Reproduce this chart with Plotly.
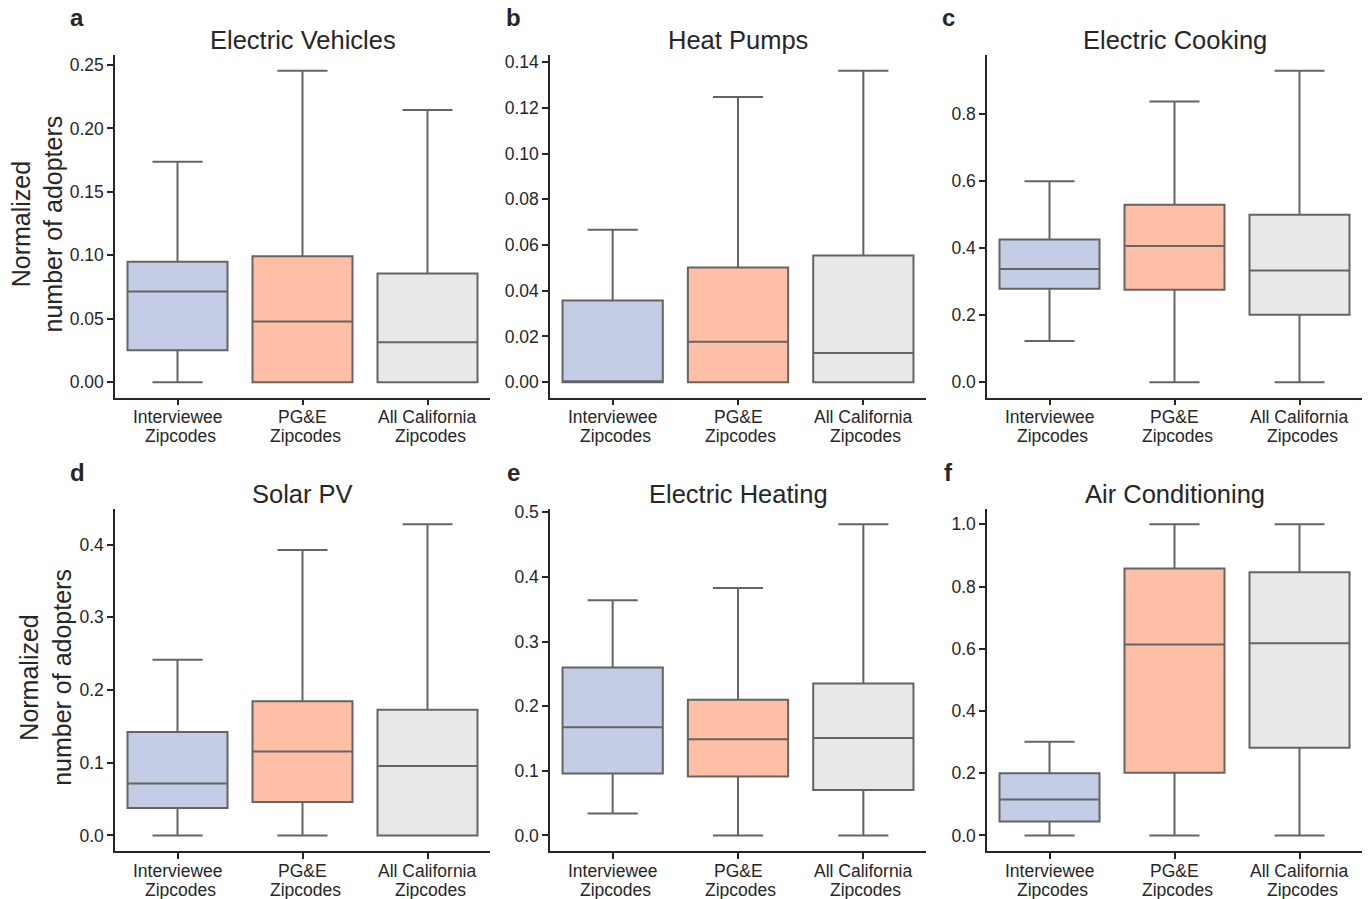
import plotly.graph_objects as go

category_line1 = ["Interviewee", "PG&E", "All California"]
category_line2 = ["Zipcodes", "Zipcodes", "Zipcodes"]
panel_titles = ["Electric Vehicles", "Heat Pumps", "Electric Cooking",
                "Solar PV", "Electric Heating", "Air Conditioning"]
panel_letters = ["a", "b", "c", "d", "e", "f"]

# per panel: [Interviewee, PG&E, All California]
ev_low = [0.0, 0.0, 0.0]
ev_q1 = [0.0252, 0.0, 0.0]
ev_med = [0.0714, 0.0478, 0.0315]
ev_q3 = [0.0950, 0.0992, 0.0856]
ev_high = [0.1738, 0.2454, 0.2145]

hp_low = [0.0, 0.0, 0.0]
hp_q1 = [0.0, 0.0, 0.0]
hp_med = [0.0, 0.0177, 0.0128]
hp_q3 = [0.0357, 0.0502, 0.0554]
hp_high = [0.0667, 0.1248, 0.1362]

ck_low = [0.1223, 0.0, 0.0]
ck_q1 = [0.2784, 0.2754, 0.2010]
ck_med = [0.3370, 0.4055, 0.3330]
ck_q3 = [0.4255, 0.5290, 0.4990]
ck_high = [0.5990, 0.8370, 0.9280]

pv_low = [0.0, 0.0, 0.0]
pv_q1 = [0.0376, 0.0459, 0.0]
pv_med = [0.0716, 0.1156, 0.0954]
pv_q3 = [0.1422, 0.1844, 0.1729]
pv_high = [0.2417, 0.3926, 0.4280]

eh_low = [0.0340, 0.0, 0.0]
eh_q1 = [0.0959, 0.0912, 0.0702]
eh_med = [0.1676, 0.1490, 0.1506]
eh_q3 = [0.2598, 0.2098, 0.2350]
eh_high = [0.3640, 0.3830, 0.4815]

ac_low = [0.0, 0.0, 0.0]
ac_q1 = [0.0450, 0.2013, 0.2817]
ac_med = [0.1157, 0.6135, 0.6180]
ac_q3 = [0.2000, 0.8576, 0.8460]
ac_high = [0.3010, 1.0, 1.0]

panels = [
    (ev_low, ev_q1, ev_med, ev_q3, ev_high),
    (hp_low, hp_q1, hp_med, hp_q3, hp_high),
    (ck_low, ck_q1, ck_med, ck_q3, ck_high),
    (pv_low, pv_q1, pv_med, pv_q3, pv_high),
    (eh_low, eh_q1, eh_med, eh_q3, eh_high),
    (ac_low, ac_q1, ac_med, ac_q3, ac_high),
]
tick_steps = [0.05, 0.02, 0.2, 0.1, 0.1, 0.2]
tick_formats = [".2f", ".2f", ".1f", ".1f", ".1f", ".1f"]

fill_colors = ["#c5cde6", "#ffbea6", "#e8e8e8"]
edge_color = "#646464"
axis_color = "#262626"
FONT = "Liberation Sans, Arial, sans-serif"

W, H = 1368, 899
col_px = [(115, 490), (550, 926), (987, 1362)]
row_px = [(55.3, 397.7), (508.7, 851.0)]

fig = go.Figure()
layout_axes = {}
annotations = []

for i, (low, q1, med, q3, high) in enumerate(panels):
    r, c = divmod(i, 3)
    n = i + 1
    xa = "x" if n == 1 else f"x{n}"
    ya = "y" if n == 1 else f"y{n}"
    for k in range(3):
        fig.add_trace(go.Box(
            x=[k], q1=[q1[k]], median=[med[k]], q3=[q3[k]],
            lowerfence=[low[k]], upperfence=[high[k]],
            width=0.8, whiskerwidth=0.5,
            fillcolor=fill_colors[k],
            line=dict(color=edge_color, width=2),
            marker=dict(size=0), boxpoints=False,
            showlegend=False, hoverinfo="skip",
            xaxis=xa, yaxis=ya,
        ))
    ymin = min(low)
    ymax = max(high)
    span = ymax - ymin
    x0, x1 = col_px[c]
    yt, yb = row_px[r]
    xdom = [x0 / W, x1 / W]
    ydom = [1 - yb / H, 1 - yt / H]
    xkey = "xaxis" if n == 1 else f"xaxis{n}"
    ykey = "yaxis" if n == 1 else f"yaxis{n}"
    layout_axes[xkey] = dict(
        domain=xdom, anchor=ya, range=[-0.5, 2.5],
        tickmode="array", tickvals=[0, 1, 2], showticklabels=False,
        showline=True, linecolor=axis_color, linewidth=1.5,
        ticks="outside", ticklen=6, tickwidth=1.5, tickcolor=axis_color,
        showgrid=False, zeroline=False, automargin=False,
        fixedrange=True,
    )
    layout_axes[ykey] = dict(
        domain=ydom, anchor=xa, range=[ymin - 0.05 * span, ymax + 0.05 * span],
        tick0=0, dtick=tick_steps[i], tickformat=tick_formats[i],
        showline=True, linecolor=axis_color, linewidth=1.5,
        ticks="outside", ticklen=6, tickwidth=1.5, tickcolor=axis_color,
        showgrid=False, zeroline=False, automargin=False,
        tickfont=dict(family=FONT, size=17.5, color=axis_color),
        fixedrange=True,
    )
    # two-line category labels under each tick
    for k in range(3):
        annotations.append(dict(
            text=category_line1[k], x=k, xref=xa, y=1 - (yb + 19.5) / H, yref="paper",
            xanchor="center", yanchor="middle", showarrow=False,
            font=dict(family=FONT, size=17.5, color=axis_color),
        ))
        annotations.append(dict(
            text=category_line2[k], x=k, xref=xa, y=1 - (yb + 38.5) / H, yref="paper",
            xanchor="center", yanchor="middle", showarrow=False, xshift=2.5,
            font=dict(family=FONT, size=17.5, color=axis_color),
        ))
    # subplot title
    annotations.append(dict(
        text=panel_titles[i], x=(x0 + x1) / 2 / W, y=1 - (yt - 15) / H,
        xref="paper", yref="paper", xanchor="center", yanchor="middle",
        showarrow=False, font=dict(family=FONT, size=25.5, color=axis_color),
    ))
    # panel letter
    letter_x = [77, 513, 949][c]
    letter_y = [18, 472][r]
    annotations.append(dict(
        text=f"<b>{panel_letters[i]}</b>", x=letter_x / W, y=1 - letter_y / H,
        xref="paper", yref="paper", xanchor="center", yanchor="middle",
        showarrow=False, font=dict(family=FONT, size=24, color=axis_color),
    ))

# y axis titles for left column
for r, xc in [(0, 37), (1, 46)]:
    yt, yb = row_px[r]
    annotations.append(dict(
        text="Normalized<br>number of adopters", x=xc / W, y=1 - ((yt + yb) / 2 - 2) / H,
        xref="paper", yref="paper", xanchor="center", yanchor="middle",
        textangle=-90, showarrow=False,
        font=dict(family=FONT, size=25, color=axis_color),
    ))

fig.update_layout(
    width=W, height=H,
    margin=dict(l=0, r=0, t=0, b=0),
    paper_bgcolor="white", plot_bgcolor="white",
    boxmode="overlay",
    annotations=annotations,
    font=dict(family=FONT, color=axis_color),
    **layout_axes,
)

fig.write_html(
    "out.html",
    config={"displayModeBar": False},
    post_script="document.body.style.margin='0';document.body.style.overflow='hidden';",
)
